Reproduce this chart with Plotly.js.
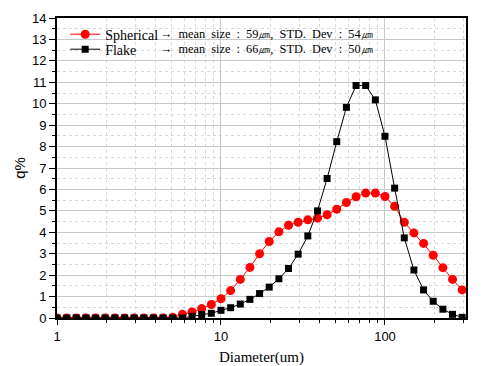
<!DOCTYPE html>
<html>
<head>
<meta charset="utf-8">
<script src="https://cdn.plot.ly/plotly-3.0.1.min.js"></script>
<style>html,body{margin:0;padding:0;background:#fff;}#chart{width:486px;height:366px;}</style>
</head>
<body>
<div id="chart"></div>
<script>
// Particle diameter (um), log-spaced measurement channels
const diameter = [1.000, 1.145, 1.311, 1.501, 1.719, 1.968, 2.254, 2.581, 2.955, 3.384,
  3.875, 4.437, 5.080, 5.817, 6.661, 7.627, 8.733, 10.00, 11.45, 13.11,
  15.01, 17.19, 19.68, 22.54, 25.81, 29.55, 33.84, 38.75, 44.37, 50.80,
  58.17, 66.61, 76.27, 87.33, 100.0, 114.5, 131.1, 150.1, 171.9, 196.8,
  225.4, 258.1, 295.5];

// q% for spherical powder
const spherical = [0, 0, 0, 0, 0, 0, 0, 0, 0, 0,
  0, 0, 0.03, 0.17, 0.28, 0.44, 0.63, 0.90, 1.28, 1.80,
  2.36, 3.00, 3.57, 4.02, 4.33, 4.47, 4.58, 4.66, 4.82, 5.08,
  5.39, 5.66, 5.83, 5.83, 5.67, 5.21, 4.47, 3.97, 3.48, 2.93,
  2.35, 1.80, 1.31];

// q% for flake powder
const flake = [0, 0, 0, 0, 0, 0, 0, 0, 0, 0,
  0, 0, 0, 0, 0.08, 0.16, 0.22, 0.36, 0.48, 0.65,
  0.87, 1.14, 1.44, 1.83, 2.31, 2.98, 3.83, 5.00, 6.51, 8.23,
  9.83, 10.85, 10.85, 10.18, 8.48, 6.06, 3.74, 2.24, 1.31, 0.78,
  0.41, 0.17, 0.03];

const seriesNames = ["Spherical", "Flake"];
const notes = [
  "\u2192\u00a0\u00a0mean\u00a0\u00a0size\u00a0\u00a0:\u00a0\u00a059\u339b,\u00a0\u00a0STD.\u00a0\u00a0Dev\u00a0\u00a0:\u00a0\u00a054\u339b",
  "\u2192\u00a0\u00a0mean\u00a0\u00a0size\u00a0\u00a0:\u00a0\u00a066\u339b,\u00a0\u00a0STD.\u00a0\u00a0Dev\u00a0\u00a0:\u00a0\u00a050\u339b"
];

const serif = '"Liberation Serif", "Times New Roman", serif';
const sans = '"Liberation Sans", Arial, sans-serif';

const traces = [
  {x: diameter, y: spherical, name: seriesNames[0], type: 'scatter', mode: 'lines+markers', legend: 'legend',
   line: {color: '#ff0000', width: 1}, marker: {color: '#ff0000', symbol: 'circle', size: 9}},
  {x: diameter, y: flake, name: seriesNames[1], type: 'scatter', mode: 'lines+markers', legend: 'legend2',
   line: {color: '#000000', width: 1}, marker: {color: '#000000', symbol: 'square', size: 7}}
];

const legendBase = {xanchor: 'left', yanchor: 'top', bgcolor: 'rgba(0,0,0,0)',
  font: {family: serif, size: 14, color: '#000'}};

const layout = {
  width: 486, height: 366,
  margin: {l: 57, r: 20, t: 18, b: 48},
  paper_bgcolor: '#ffffff', plot_bgcolor: '#ffffff',
  showlegend: true,
  legend: Object.assign({x: 0.02, y: 0.998}, legendBase),
  legend2: Object.assign({x: 0.02, y: 0.948}, legendBase),
  xaxis: {
    type: 'log', range: [0, 2.494],
    tickvals: [1, 10, 100], ticktext: ['1', '10', '100'],
    ticks: 'outside', ticklen: 5, tickwidth: 1, tickcolor: '#000',
    showline: true, linecolor: '#000', linewidth: 2, mirror: true,
    showgrid: true, gridcolor: '#c8c8c8', gridwidth: 1, zeroline: false,
    minor: {dtick: 'D1', ticks: 'outside', ticklen: 3, tickcolor: '#000', showgrid: true, gridcolor: '#d8d8d8', griddash: 'dot'},
    tickfont: {family: sans, size: 13, color: '#000'},
    title: {text: 'Diameter(um)', font: {family: serif, size: 15, color: '#000'}, standoff: 10}
  },
  yaxis: {
    range: [0, 14], dtick: 1,
    ticks: 'outside', ticklen: 6, tickwidth: 1, tickcolor: '#000',
    showline: true, linecolor: '#000', linewidth: 2, mirror: true,
    showgrid: true, gridcolor: '#c8c8c8', gridwidth: 1, zeroline: false,
    minor: {dtick: 0.5, ticks: 'outside', ticklen: 3, tickcolor: '#000', showgrid: true, gridcolor: '#d8d8d8', griddash: 'dot'},
    tickfont: {family: sans, size: 13, color: '#000'},
    title: {text: 'q%', font: {family: sans, size: 15, color: '#000'}, standoff: 3}
  },
  annotations: [
    {xref: 'paper', yref: 'paper', x: 0.248, y: 0.947, xanchor: 'left', yanchor: 'middle', showarrow: false,
     text: notes[0], font: {family: serif, size: 12.3, color: '#000'}},
    {xref: 'paper', yref: 'paper', x: 0.248, y: 0.897, xanchor: 'left', yanchor: 'middle', showarrow: false,
     text: notes[1], font: {family: serif, size: 12.3, color: '#000'}}
  ]
};

Plotly.newPlot('chart', traces, layout, {displayModeBar: false, staticPlot: true});
</script>
</body>
</html>
